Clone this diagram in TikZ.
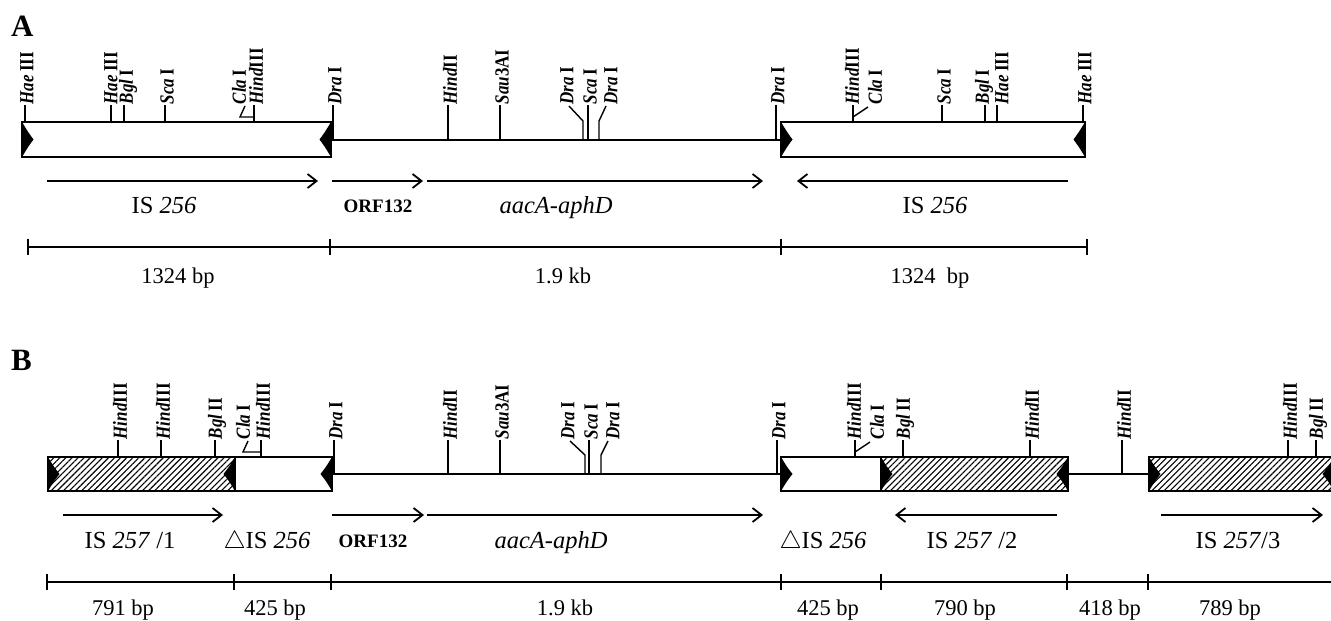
\documentclass[tikz,border=0pt]{standalone}
\usepackage{fontspec}
\setmainfont{Liberation Serif}
\newfontfamily\sitefont[FakeStretch=0.85]{Liberation Serif}
\usetikzlibrary{arrows.meta,patterns.meta}
\tikzset{
  seg/.style={line width=1.8pt},
  whitebox/.style={fill=white},
  hatchbox/.style={pattern={Lines[angle=45,distance=4.3pt,line width=1.1pt]}},
  boxedge/.style={line width=2pt},
  sitetick/.style={line width=1.4pt},
  sitelabel/.style={rotate=90, anchor=west, inner sep=0.5pt,
    font=\sitefont\fontsize{20}{22}\selectfont\bfseries},
  genearrow/.style={line width=1.8pt,
    -{Straight Barb[length=9pt,width=14pt,line width=1.8pt]}},
  namelabel/.style={font=\fontsize{24.5}{28}\selectfont, anchor=base},
  orflabel/.style={font=\fontsize{19}{22}\selectfont\bfseries, anchor=base},
  sizelabel/.style={font=\fontsize{22.5}{26}\selectfont, anchor=base},
  panellabel/.style={font=\fontsize{31}{34}\selectfont\bfseries, anchor=base west,
    inner sep=0pt},
  scalebar/.style={line width=1.6pt},
}
% site: name, x, label base y, tick bottom y, text
\newcommand\site[5]{%
  \draw[sitetick] (#2,#3) -- (#2,#4);
  \node[sitelabel] (#1) at ({#2+2},#3) {#5};}
% tick only: x, top y, bottom y
\newcommand\sitetickonly[3]{\draw[sitetick] (#1,#2) -- (#1,#3);}
% label only
\newcommand\sitelab[4]{\node[sitelabel] (#1) at (#2,#3) {#4};}
% inverted-repeat triangle: x, top, bottom, direction (+1 right, -1 left)
\newcommand\irtri[4]{%
  \fill ({#1},{#2}) .. controls ({#1+#4*6},{#2+10}) .. ({#1+#4*11.5},{(#2+#3)/2})
        .. controls ({#1+#4*6},{#3-10}) .. ({#1},{#3}) -- cycle;}
\newcommand\scaletick[2]{\draw[scalebar] (#1,{#2-8}) -- (#1,{#2+8});}
\begin{document}
\begin{tikzpicture}[x=1pt,y=-1pt]
\useasboundingbox (0,0) rectangle (1331,621);

% ================= Panel A =================
\node[panellabel] (labA) at (11,36) {A};

% boxes
\fill[whitebox] (22,122) rectangle (331,157);
\fill[whitebox] (781,122) rectangle (1085,157);
\irtri{22}{122}{157}{1}
\irtri{331}{122}{157}{-1}
\irtri{781}{122}{157}{1}
\irtri{1085}{122}{157}{-1}
\draw[boxedge] (22,122) rectangle (331,157);
\draw[boxedge] (781,122) rectangle (1085,157);
\draw[seg] (331,140) -- (781,140);

% sites
\site{a1}{25}{105}{122}{\textit{Hae}\,III}
\sitetickonly{111}{105}{122}\sitelab{a2}{111}{105}{\textit{Hae}\,III}
\sitetickonly{124}{105}{122}\sitelab{a3}{128}{105}{\textit{Bgl}\,I}
\site{a4}{165}{105}{122}{\textit{Sca}\,I}
\site{a5}{254}{105}{122}{\textit{Hind}III}
\sitelab{a6}{239}{105}{\textit{Cla}\,I}
\draw[sitetick] (245,106) -- (240,117) -- (254,117);
\site{a7}{333}{105}{140}{\textit{Dra}\,I}
\site{a8}{448}{105}{140}{\textit{Hind}II}
\site{a9}{500}{105}{140}{\textit{Sau}3AI}
\sitelab{a10}{567}{105}{\textit{Dra}\,I}
\draw[sitetick] (569,106) -- (583,121) -- (583,140);
\site{a11}{588}{105}{140}{\textit{Sca}\,I}
\sitelab{a12}{611}{105}{\textit{Dra}\,I}
\draw[sitetick] (606,106) -- (599,121) -- (599,140);
\site{a13}{776}{105}{140}{\textit{Dra}\,I}
\sitetickonly{853}{105}{122}\sitelab{a14}{852}{105}{\textit{Hind}III}
\sitelab{a15}{875}{105}{\textit{Cla}\,I}
\draw[sitetick] (853,117) -- (868,107);
\site{a16}{942}{105}{122}{\textit{Sca}\,I}
\sitetickonly{985}{105}{122}\sitelab{a17}{984}{105}{\textit{Bgl}\,I}
\sitetickonly{997}{105}{122}\sitelab{a18}{1002}{105}{\textit{Hae}\,III}
\site{a19}{1083}{105}{122}{\textit{Hae}\,III}

% gene arrows
\coordinate (aA1s) at (47,181);  \coordinate (aA1e) at (318,181);
\coordinate (aA2s) at (332,181); \coordinate (aA2e) at (423,181);
\coordinate (aA3s) at (427,181); \coordinate (aA3e) at (763,181);
\coordinate (aA4s) at (1068,181);\coordinate (aA4e) at (797,181);
\draw[genearrow] (aA1s) -- (aA1e);
\draw[genearrow] (aA2s) -- (aA2e);
\draw[genearrow] (aA3s) -- (aA3e);
\draw[genearrow] (aA4s) -- (aA4e);

\node[namelabel] (nA1) at (164,213) {IS \textit{256}};
\node[orflabel] (nA2) at (378,212) {ORF132};
\node[namelabel] (nA3) at (556,213) {\textit{aacA-aphD}};
\node[namelabel] (nA4) at (935,213) {IS \textit{256}};

% scale bar
\draw[scalebar] (28,247) -- (1087,247);
\scaletick{28}{247}\scaletick{330}{247}\scaletick{781}{247}\scaletick{1087}{247}
\node[sizelabel] (sA1) at (178,283) {1324 bp};
\node[sizelabel] (sA2) at (563,283) {1.9 kb};
\node[sizelabel] (sA3) at (930,283) {1324\ \ bp};

% ================= Panel B =================
\node[panellabel] (labB) at (11,370) {B};

\fill[hatchbox] (48,457) rectangle (235,491);
\fill[whitebox] (235,457) rectangle (332,491);
\fill[whitebox] (781,457) rectangle (881,491);
\fill[hatchbox] (881,457) rectangle (1068,491);
\fill[hatchbox] (1149,457) rectangle (1334,491);
\irtri{48}{457}{491}{1}
\irtri{235}{457}{491}{-1}
\irtri{332}{457}{491}{-1}
\irtri{781}{457}{491}{1}
\irtri{881}{457}{491}{1}
\irtri{1068}{457}{491}{-1}
\irtri{1149}{457}{491}{1}
\irtri{1334}{457}{491}{-1}
\draw[boxedge] (48,457) rectangle (332,491);
\draw[boxedge] (235,457) -- (235,491);
\draw[boxedge] (781,457) rectangle (1068,491);
\draw[boxedge] (881,457) -- (881,491);
\draw[boxedge] (1334,457) -- (1149,457) -- (1149,491) -- (1334,491);
\draw[seg] (332,474) -- (781,474);
\draw[seg] (1068,474) -- (1149,474);

\site{b1}{118}{440}{457}{\textit{Hind}III}
\site{b2}{161}{440}{457}{\textit{Hind}III}
\site{b3}{215}{440}{457}{\textit{Bgl}\,II}
\site{b4}{261}{440}{457}{\textit{Hind}III}
\sitelab{b5}{243}{440}{\textit{Cla}\,I}
\draw[sitetick] (248,441) -- (243,452) -- (261,452);
\site{b6}{334}{440}{474}{\textit{Dra}\,I}
\site{b7}{448}{440}{474}{\textit{Hind}II}
\site{b8}{500}{440}{474}{\textit{Sau}3AI}
\sitelab{b9}{568}{440}{\textit{Dra}\,I}
\draw[sitetick] (570,441) -- (585,455) -- (585,474);
\site{b10}{589}{440}{474}{\textit{Sca}\,I}
\sitelab{b11}{613}{440}{\textit{Dra}\,I}
\draw[sitetick] (608,441) -- (601,455) -- (601,474);
\site{b12}{777}{440}{474}{\textit{Dra}\,I}
\sitetickonly{855}{440}{457}\sitelab{b13}{854}{440}{\textit{Hind}III}
\sitelab{b14}{877}{440}{\textit{Cla}\,I}
\draw[sitetick] (855,452) -- (870,442);
\site{b15}{903}{440}{457}{\textit{Bgl}\,II}
\site{b16}{1030}{440}{457}{\textit{Hind}II}
\site{b17}{1122}{440}{474}{\textit{Hind}II}
\site{b18}{1288}{440}{457}{\textit{Hind}III}
\site{b19}{1316}{440}{457}{\textit{Bgl}\,II}

\coordinate (aB1s) at (63,515);   \coordinate (aB1e) at (223,515);
\coordinate (aB2s) at (332,515);  \coordinate (aB2e) at (424,515);
\coordinate (aB3s) at (427,515);  \coordinate (aB3e) at (763,515);
\coordinate (aB4s) at (1057,515); \coordinate (aB4e) at (895,515);
\coordinate (aB5s) at (1161,515); \coordinate (aB5e) at (1323,515);
\draw[genearrow] (aB1s) -- (aB1e);
\draw[genearrow] (aB2s) -- (aB2e);
\draw[genearrow] (aB3s) -- (aB3e);
\draw[genearrow] (aB4s) -- (aB4e);
\draw[genearrow] (aB5s) -- (aB5e);

\node[namelabel] (nB1) at (130,548) {IS \textit{257} /1};
\node[namelabel] (nB2) at (267,548) {$\triangle$IS \textit{256}};
\node[orflabel] (nB3) at (373,547) {ORF132};
\node[namelabel] (nB4) at (551,548) {\textit{aacA-aphD}};
\node[namelabel] (nB5) at (823,548) {$\triangle$IS \textit{256}};
\node[namelabel] (nB6) at (972,548) {IS \textit{257} /2};
\node[namelabel] (nB7) at (1238,548) {IS \textit{257}/3};

\draw[scalebar] (47,582) -- (1331,582);
\scaletick{47}{582}\scaletick{234}{582}\scaletick{331}{582}\scaletick{781}{582}
\scaletick{881}{582}\scaletick{1067}{582}\scaletick{1148}{582}
\node[sizelabel] (sB1) at (123,615) {791 bp};
\node[sizelabel] (sB2) at (275,615) {425 bp};
\node[sizelabel] (sB3) at (565,615) {1.9 kb};
\node[sizelabel] (sB4) at (828,615) {425 bp};
\node[sizelabel] (sB5) at (965,615) {790 bp};
\node[sizelabel] (sB6) at (1110,615) {418 bp};
\node[sizelabel] (sB7) at (1230,615) {789 bp};
\end{tikzpicture}
\end{document}
